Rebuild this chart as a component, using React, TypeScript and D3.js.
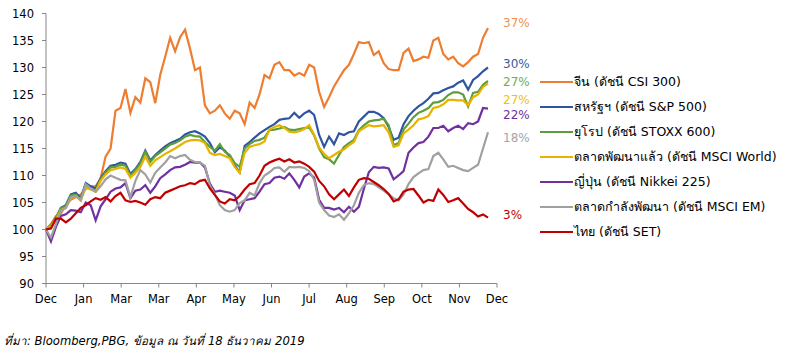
import React from "react";
import * as d3 from "d3";

const W = 786;
const H = 354;

const Y_TICKS = [90, 95, 100, 105, 110, 115, 120, 125, 130, 135, 140];
const X_LABELS = ["Dec", "Jan", "Mar", "Mar", "Apr", "May", "Jun", "Jul", "Aug", "Sep", "Oct", "Nov", "Dec"];
const DATA_END = 11.76; // position (in axis months) of the last data point

const SERIES_NAMES = [
  "จีน (ดัชนี CSI 300)",
  "สหรัฐฯ (ดัชนี S&P 500)",
  "ยุโรป (ดัชนี STOXX 600)",
  "ตลาดพัฒนาแล้ว (ดัชนี MSCI World)",
  "ญี่ปุ่น (ดัชนี Nikkei 225)",
  "ตลาดกำลังพัฒนา (ดัชนี MSCI EM)",
  "ไทย (ดัชนี SET)",
];
const SERIES_COLORS = ["#ED7D31", "#2F55A0", "#5E9E3A", "#E6B400", "#7030A0", "#A0A0A0", "#C00000"];
const LABEL_COLORS = ["#F0904F", "#3A5A9A", "#70AD47", "#F2C200", "#7030A0", "#A5A5A5", "#C00000"];
const END_LABELS = ["37%", "30%", "27%", "27%", "22%", "18%", "3%"];
const END_LABEL_VALUES = [138.3, 130.7, 127.3, 124.0, 121.2, 116.9, 102.8];

const CSI300 = [
  100, 101, 102.5, 103, 104.5, 105.5, 106, 106.5, 107.5, 108, 108, 109.5, 113.5, 115, 122,
  122.5, 126, 121.6, 124.5, 123.5, 128, 127.3, 123.4, 128.6, 132, 135.5, 133, 135.6, 137, 133.5,
  129.5, 130, 123, 121.5, 122, 123, 121.5, 120.5, 122, 121.5, 119.5, 123.5, 122.5, 125, 128.6,
  128, 130.5, 131, 129.5, 129.5, 128.5, 129, 128.5, 130.5, 130, 125.5, 122.7, 124.5, 126.5, 128,
  129.5, 130.5, 132.5, 134.7, 134.5, 134.7, 132.3, 133, 130.8, 129.7, 129.5, 129.5, 132.7, 133.5, 131.2,
  131.5, 132, 131.8, 135, 135.5, 132.5, 131.5, 132, 130.8, 130.2, 131, 132, 132.5, 135.5, 137.3,
];
const SP500 = [
  100, 100.5, 102, 104, 104.5, 106.5, 106.8, 105.8, 108.6, 108, 107.6, 109.5, 110.8, 111.8, 112,
  112.4, 112.2, 110.3, 111.2, 112.5, 114.6, 112.8, 113.8, 114.6, 115.4, 116, 116.4, 116.8, 117.6, 118,
  118.2, 117.8, 117.2, 116, 114.3, 115.2, 114.6, 113.5, 111.8, 110.6, 115.5, 116.2, 117, 117.8, 118.4,
  119, 119.5, 120.3, 120.5, 120.6, 121.6, 120.7, 121.5, 122, 121.2, 117.5, 115.3, 117.2, 115.8, 117.8,
  117.5, 118, 118.2, 120, 120.9, 121.8, 121.8, 121.4, 120.6, 119, 116.6, 117, 119.5, 121, 122,
  122.8, 123.4, 124.2, 125.2, 125.3, 125.8, 126.2, 126.5, 127.2, 127.6, 125.9, 127.7, 128.4, 129.3, 130,
];
const STOXX600 = [
  100, 100.8, 102.2, 104, 104.3, 106.3, 106.5, 105.5, 108.2, 107.5, 107.2, 109.3, 110.5, 111.5, 111.6,
  112, 111.8, 110, 111, 112.2, 114.4, 112.5, 113.6, 114.3, 115, 115.7, 116, 116.5, 117.2, 117.5,
  117.3, 117.2, 116.2, 115.3, 114.6, 115.8, 114.4, 113.8, 112.3, 111.6, 115, 115.8, 116.4, 116.6, 117,
  118.4, 118.5, 118.7, 119, 118.5, 118.4, 118.6, 118.8, 118.9, 117.4, 115, 113.4, 113, 112.2, 113.8,
  115.3, 116, 116.6, 118.4, 119.3, 120, 120.2, 120.3, 120.5, 119.3, 115.6, 116, 118.5, 119.6, 120.8,
  121.6, 122, 122.5, 123.5, 123.6, 124, 124.9, 125.4, 125.4, 125, 122.8, 125.3, 125.5, 126.8, 127.5,
];
const MSCI_WORLD = [
  100, 100.6, 101.8, 103.6, 104, 105.8, 106.2, 105.3, 107.8, 107.4, 107, 109, 110.2, 111, 111.2,
  111.5, 111.2, 109.6, 110.5, 111.6, 113.5, 111.8, 112.8, 113.4, 114, 114.5, 115, 115.6, 116.2, 116.5,
  116.6, 116.5, 116, 114.2, 113.8, 114, 113.6, 113.2, 111.6, 110.5, 114.2, 115.3, 115.6, 115.8, 116.3,
  118.5, 119, 119.3, 118.8, 118.1, 118, 118.2, 118.6, 119.3, 117.5, 115.2, 114, 113.2, 113.8, 114.4,
  114.8, 115.6, 116.2, 118.2, 118.8, 119.3, 119.1, 119.2, 119.3, 118, 115.3, 115.6, 117.8, 118.5, 119.3,
  120.4, 120.6, 121, 122.5, 122.7, 123.2, 124, 124, 123.9, 123.9, 123, 124.5, 125, 126.4, 127,
];
const NIKKEI225 = [
  100, 97.8, 100.5, 102.5, 102.8, 103.6, 103.5, 103.2, 105, 104.5, 101.7, 104.3, 105.6, 107, 107.6,
  107.8, 108.6, 105.8, 107.2, 107.4, 108.2, 106.8, 108, 109.5, 110.2, 111, 111.5, 111.6, 112, 112.5,
  112.4, 112.4, 111.5, 108.5, 107, 107.2, 107, 106.8, 106.3, 103.6, 105.4, 105.6, 105.8, 107, 108.4,
  108.6, 109.6, 109.8, 109.4, 110.4, 109.2, 107.8, 109.8, 110.4, 109.6, 105.5, 104, 104, 103.7, 104,
  103.2, 104.2, 103.3, 104.2, 107.5, 110.6, 111.6, 111.4, 111.5, 111.3, 109.3, 110, 110.8, 114.2, 115.2,
  116, 116.2, 117.2, 118.8, 118.8, 119.2, 118.2, 118.8, 119.2, 118.6, 119.7, 119.5, 120, 122.5, 122.4,
];
const MSCI_EM = [
  100, 98.5, 101, 103.5, 104, 106, 106.2, 105.5, 108.4, 107.6, 107, 108, 109.3, 110, 109.6,
  109.2, 109.1, 106, 109, 111, 110.2, 108.7, 110.5, 111.5, 112.4, 113.6, 113.2, 113.6, 113.8, 112.9,
  112.5, 112.4, 111.8, 108.2, 106.5, 104.5, 103.6, 103.3, 103.6, 104.9, 105.4, 106.8, 106.3, 108.6, 110,
  110.6, 111.4, 111.5, 110.7, 111.6, 111.5, 111.6, 111.4, 110.8, 109.2, 105, 103.6, 102.6, 102.3, 102.8,
  101.8, 103, 104.5, 106.8, 108.2, 108.6, 108.4, 107.8, 107.2, 106.5, 105.8, 105.4, 106.5, 108.4, 109.7,
  110.4, 111, 111.2, 113.6, 114.2, 113, 111.6, 111.8, 111.4, 111, 110.8, 111.4, 112, 115, 118,
];
const SET = [
  100, 100.2, 102, 102, 101.3, 102, 103, 104, 104.5, 105.2, 105.8, 105.5, 106, 105.2, 106.2,
  106.8, 105.4, 105.1, 105.3, 105, 104.6, 105.6, 106, 105.8, 106.8, 107.2, 107.6, 108, 108.2, 108.6,
  108.4, 109, 109.2, 107.6, 106.4, 105.2, 104.8, 105.6, 105.4, 106.2, 107.4, 108.4, 108.6, 110, 111.8,
  112.4, 112.8, 113.1, 112.6, 113, 112.4, 112.6, 112.2, 111.6, 110.7, 109, 108, 106.5, 105.6, 106.5,
  107.4, 106.2, 107.8, 109.2, 109.5, 109.4, 108.8, 108.2, 107.5, 106.6, 105.2, 105.6, 107, 107.4, 107.5,
  106.3, 105, 105.5, 105.3, 107.4, 106.4, 105.1, 105.4, 105.8, 104.8, 103.8, 103.2, 102.4, 102.8, 102.2,
];

const SERIES_DATA = [CSI300, SP500, STOXX600, MSCI_WORLD, NIKKEI225, MSCI_EM, SET];

const FONT = "Tahoma, 'DejaVu Sans', 'Noto Sans', sans-serif";
const SOURCE = "ที่มา: Bloomberg,PBG, ข้อมูล  ณ วันที่ 18 ธันวาคม 2019";

export default function App() {
  const left = 46;
  const right = 497;
  const top = 13.5;
  const bottom = 283.5;

  const x = d3.scaleLinear().domain([0, 12]).range([left, right]);
  const y = d3.scaleLinear().domain([90, 140]).range([bottom, top]);

  const n = CSI300.length;
  const t = d3.scaleLinear().domain([0, n - 1]).range([0, DATA_END]);

  const line = d3
    .line<number>()
    .x((_, i) => x(t(i)))
    .y((v) => y(v));

  const legendX = 540;
  const legendY0 = 82;
  const legendStep = 25;

  return (
    <svg
      width={W}
      height={H}
      style={{ position: "absolute", left: 0, top: 0, background: "#fff" }}
      fontFamily={FONT}
    >
      <rect x={0} y={0} width={W} height={H} fill="#fff" />
      {/* y axis */}
      <line x1={left} x2={left} y1={top} y2={bottom} stroke="#868686" strokeWidth={1} />
      {Y_TICKS.map((v) => (
        <g key={v}>
          <line x1={left - 4} x2={left} y1={y(v)} y2={y(v)} stroke="#868686" />
          <text x={34} y={y(v)} dy="0.35em" textAnchor="end" fontSize={11.5} fill="#000">
            {v}
          </text>
        </g>
      ))}
      {/* x axis */}
      <line x1={left} x2={right} y1={bottom} y2={bottom} stroke="#868686" strokeWidth={1} />
      {X_LABELS.map((lab, i) => (
        <g key={i}>
          <line x1={x(i)} x2={x(i)} y1={bottom} y2={bottom + 4} stroke="#868686" />
          <text x={x(i)} y={298.5} dy="0.35em" textAnchor="middle" fontSize={11.5} fill="#000">
            {lab}
          </text>
        </g>
      ))}
      {/* series */}
      {SERIES_DATA.map((d, k) => (
        <path
          key={k}
          d={line(d) || ""}
          fill="none"
          stroke={SERIES_COLORS[k]}
          strokeWidth={2.2}
          strokeLinejoin="miter"
        />
      ))}
      {/* end labels */}
      {END_LABELS.map((lab, k) => (
        <text
          key={k}
          x={503}
          y={y(END_LABEL_VALUES[k])}
          dy="0.35em"
          fontSize={12}
          fill={LABEL_COLORS[k]}
        >
          {lab}
        </text>
      ))}
      {/* legend */}
      {SERIES_NAMES.map((name, k) => (
        <g key={k}>
          <line
            x1={legendX}
            x2={legendX + 33}
            y1={legendY0 + k * legendStep}
            y2={legendY0 + k * legendStep}
            stroke={SERIES_COLORS[k]}
            strokeWidth={2}
          />
          <text x={legendX + 34} y={legendY0 + k * legendStep} dy="0.35em" fontSize={12.5} fill="#000">
            {name}
          </text>
        </g>
      ))}
      {/* source */}
      <text x={4} y={341} dy="0.35em" fontSize={11.6} fontStyle="italic" fill="#000">
        {SOURCE}
      </text>
    </svg>
  );
}
